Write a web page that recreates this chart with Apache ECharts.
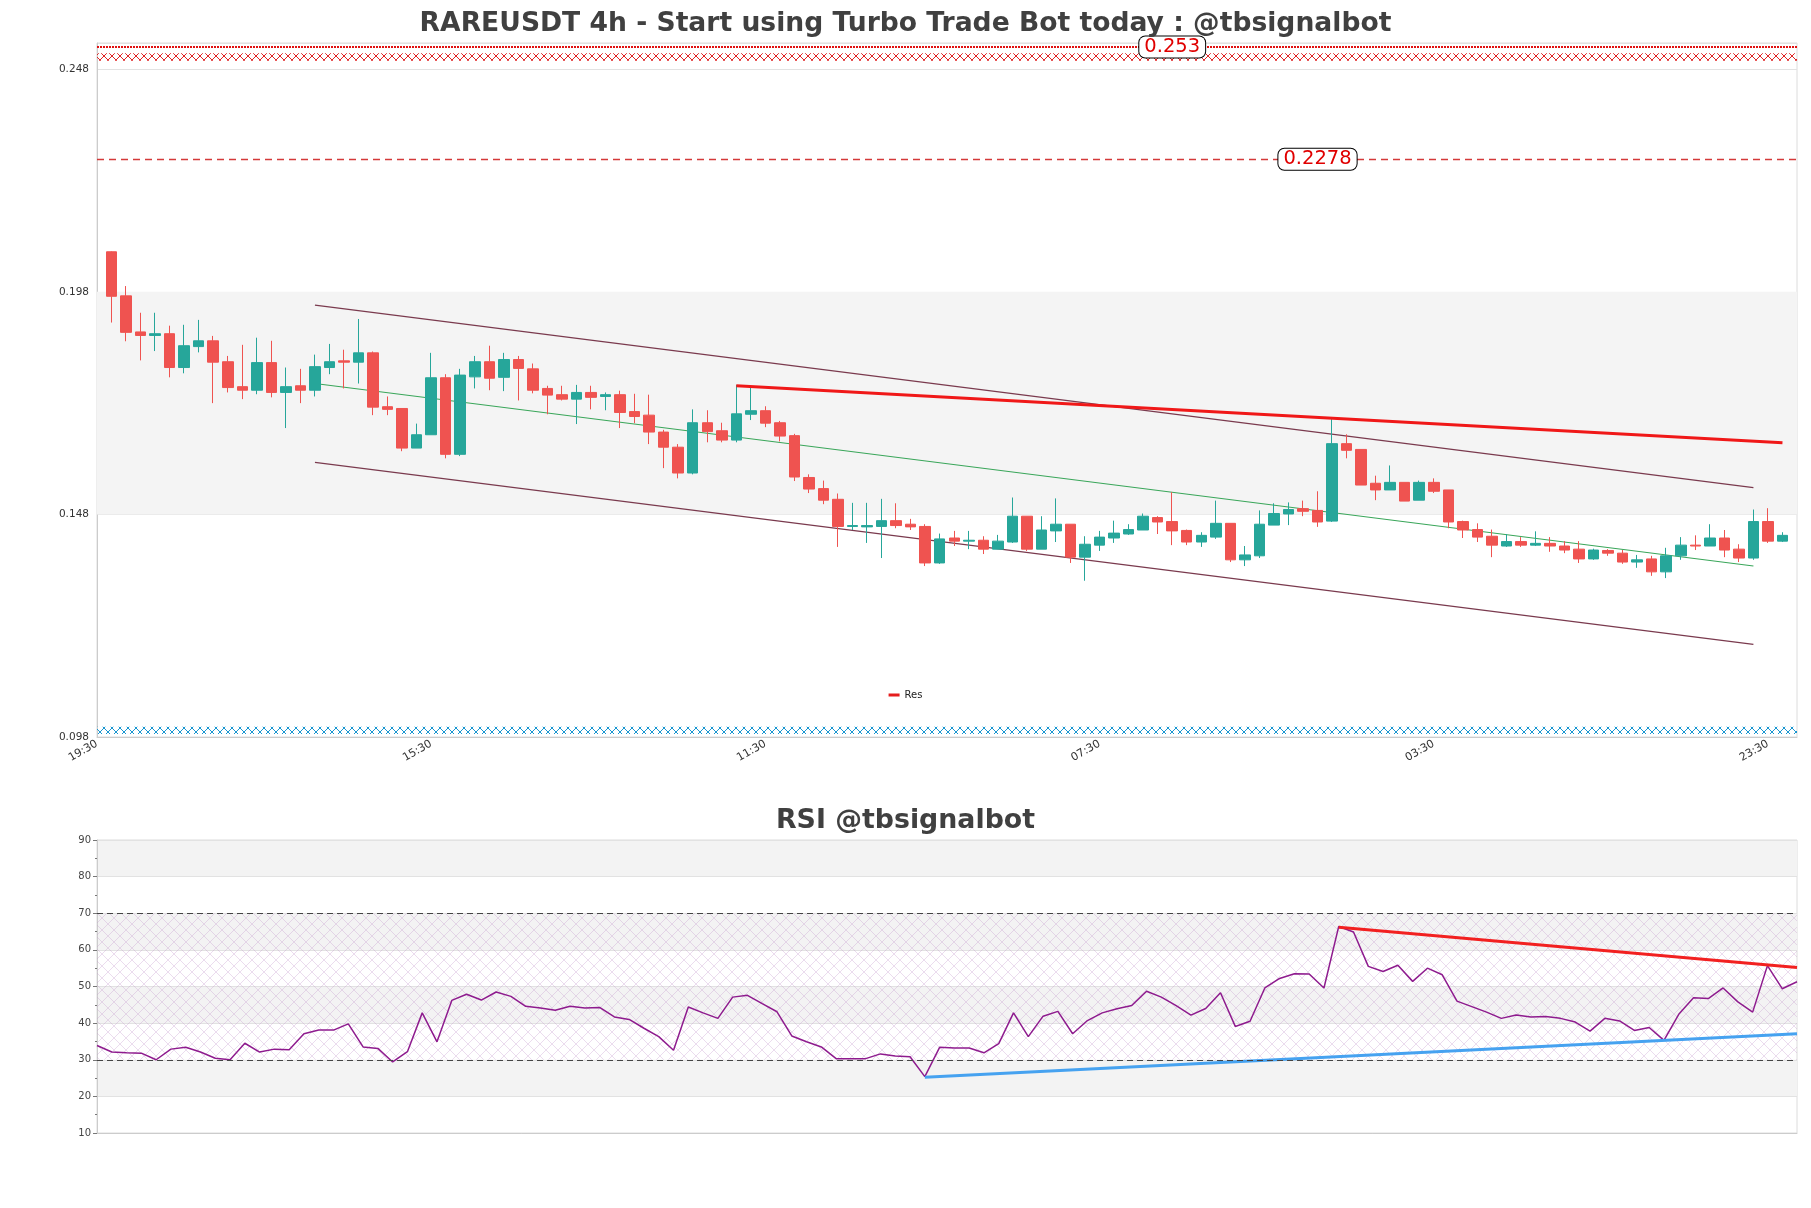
<!DOCTYPE html>
<html><head><meta charset="utf-8">
<script src="https://cdn.jsdelivr.net/npm/echarts/dist/echarts.min.js"></script>
<style>html,body{margin:0;padding:0;background:#fff}#c{width:1811px;height:1208px}</style>
</head><body><div id="c"></div>
<script>
// ---------- DATA ----------
const firstTime = '19:30';          // time of the slot left of the first candle
const stepHours = 4;
const tickLabels = ['19:30','15:30','11:30','07:30','03:30','23:30'];

const opens = [0.2070,0.1971,0.1890,0.1882,0.1886,0.1810,0.1857,0.1870,0.1823,0.1767,
0.1759,0.1821,0.1754,0.1769,0.1759,0.1810,0.1825,0.1822,0.1843,0.1722,
0.1718,0.1629,0.1659,0.1787,0.1615,0.1789,0.1823,0.1788,0.1828,0.1807,
0.1763,0.1749,0.1739,0.1754,0.1745,0.1749,0.1711,0.1703,0.1665,0.1631,
0.1573,0.1686,0.1668,0.1647,0.1705,0.1713,0.1686,0.1657,0.1563,0.1538,
0.1514,0.1453,0.1452,0.1453,0.1466,0.1458,0.1453,0.1371,0.1427,0.1420,
0.1422,0.1402,0.1418,0.1476,0.1402,0.1443,0.1458,0.1384,0.1411,0.1427,
0.1436,0.1445,0.1473,0.1464,0.1444,0.1418,0.1429,0.1460,0.1378,0.1387,
0.1456,0.1481,0.1493,0.1489,0.1465,0.1639,0.1626,0.1550,0.1535,0.1552,
0.1512,0.1552,0.1535,0.1464,0.1446,0.1431,0.1409,0.1419,0.1411,0.1415,
0.1409,0.1402,0.1380,0.1399,0.1393,0.1373,0.1380,0.1351,0.1387,0.1411,
0.1409,0.1427,0.1402,0.1382,0.1464,0.1420];
const closes = [0.1970,0.1889,0.1882,0.1886,0.1810,0.1859,0.1870,0.1822,0.1765,0.1759,
0.1821,0.1754,0.1767,0.1759,0.1812,0.1823,0.1822,0.1843,0.1721,0.1716,
0.1629,0.1659,0.1787,0.1615,0.1793,0.1823,0.1786,0.1828,0.1808,0.1759,
0.1748,0.1739,0.1754,0.1743,0.1749,0.1709,0.1700,0.1665,0.1631,0.1573,
0.1686,0.1666,0.1647,0.1706,0.1713,0.1685,0.1656,0.1564,0.1537,0.1512,
0.1453,0.1455,0.1455,0.1466,0.1455,0.1452,0.1371,0.1425,0.1420,0.1422,
0.1402,0.1420,0.1476,0.1402,0.1445,0.1458,0.1384,0.1413,0.1429,0.1438,
0.1446,0.1476,0.1463,0.1443,0.1418,0.1433,0.1460,0.1378,0.1389,0.1458,
0.1482,0.1491,0.1487,0.1463,0.1639,0.1624,0.1546,0.1535,0.1552,0.1510,
0.1552,0.1532,0.1463,0.1445,0.1429,0.1411,0.1419,0.1411,0.1415,0.1409,
0.1400,0.1380,0.1400,0.1393,0.1373,0.1378,0.1351,0.1387,0.1411,0.1409,
0.1427,0.1400,0.1382,0.1464,0.1420,0.1433];
const lows = [0.1911,0.1869,0.1826,0.1847,0.1788,0.1797,0.1844,0.1730,0.1754,0.1739,
0.1750,0.1743,0.1674,0.1730,0.1745,0.1795,0.1763,0.1774,0.1703,0.1703,
0.1622,0.1629,0.1659,0.1606,0.1611,0.1763,0.1759,0.1757,0.1736,0.1752,
0.1705,0.1736,0.1683,0.1716,0.1714,0.1674,0.1685,0.1638,0.1584,0.1561,
0.1570,0.1642,0.1642,0.1642,0.1692,0.1676,0.1644,0.1555,0.1528,0.1503,
0.1407,0.1445,0.1416,0.1382,0.1449,0.1445,0.1364,0.1369,0.1409,0.1402,
0.1391,0.1402,0.1416,0.1398,0.1402,0.1418,0.1371,0.1331,0.1398,0.1416,
0.1434,0.1445,0.1436,0.1411,0.1411,0.1407,0.1425,0.1373,0.1364,0.1382,
0.1456,0.1456,0.1476,0.1452,0.1463,0.1606,0.1546,0.1512,0.1535,0.1510,
0.1512,0.1528,0.1449,0.1427,0.1418,0.1384,0.1407,0.1407,0.1409,0.1396,
0.1393,0.1371,0.1378,0.1387,0.1369,0.1360,0.1342,0.1337,0.1378,0.1400,
0.1409,0.1384,0.1373,0.1378,0.1416,0.1418];
const highs = [0.2071,0.1993,0.1933,0.1933,0.1904,0.1906,0.1917,0.1881,0.1836,0.1861,
0.1877,0.1870,0.1810,0.1807,0.1839,0.1863,0.1850,0.1919,0.1846,0.1745,
0.1718,0.1684,0.1843,0.1795,0.1807,0.1836,0.1859,0.1843,0.1836,0.1819,
0.1769,0.1769,0.1771,0.1769,0.1754,0.1758,0.1751,0.1749,0.1670,0.1638,
0.1716,0.1714,0.1686,0.1771,0.1765,0.1723,0.1690,0.1661,0.1570,0.1556,
0.1527,0.1506,0.1506,0.1515,0.1505,0.1470,0.1458,0.1437,0.1443,0.1443,
0.1431,0.1434,0.1518,0.1476,0.1476,0.1516,0.1458,0.1431,0.1443,0.1466,
0.1458,0.1482,0.1476,0.1530,0.1446,0.1440,0.1511,0.1460,0.1409,0.1489,
0.1505,0.1507,0.1511,0.1532,0.1694,0.1660,0.1626,0.1567,0.1590,0.1552,
0.1556,0.1561,0.1535,0.1466,0.1460,0.1446,0.1436,0.1429,0.1442,0.1429,
0.1420,0.1420,0.1403,0.1402,0.1400,0.1389,0.1387,0.1405,0.1429,0.1433,
0.1458,0.1445,0.1413,0.1491,0.1494,0.1440];

const rsi = [33.9,32.1,31.9,31.8,30.0,32.9,33.4,32.1,30.4,30.0,
34.5,32.1,32.9,32.7,37.1,38.1,38.1,39.8,33.5,33.1,
29.4,32.2,42.8,34.9,46.2,47.9,46.3,48.5,47.3,44.6,
44.1,43.5,44.6,44.1,44.3,41.7,41.0,38.6,36.3,32.6,
44.4,42.8,41.3,47.1,47.6,45.3,43.1,36.5,34.9,33.5,
30.3,30.3,30.3,31.6,31.0,30.8,25.4,33.4,33.2,33.2,
31.9,34.4,42.8,36.3,41.9,43.2,37.1,40.7,42.8,43.9,
44.8,48.7,47.1,44.8,42.2,44.0,48.3,39.1,40.5,49.6,
52.2,53.5,53.4,49.6,66.4,64.9,55.5,54.1,55.8,51.4,
55.0,53.2,46.0,44.5,43.0,41.3,42.2,41.7,41.8,41.3,
40.3,37.8,41.3,40.6,38.0,38.8,35.3,42.4,46.9,46.7,
49.6,45.8,43.0,55.7,49.4,51.3];

// trend / channel lines: candle index pairs and price pairs
const resIdx = [43, 115],   resVal = [0.1769, 0.1641];
const chanIdx = [14, 113];
const upperVal = [0.1950, 0.1540];
const midVal = [0.1774, 0.1364];
const lowerVal = [0.1597, 0.1188];
// horizontal levels
const levelSolid = 0.2278;
const levelTop = 0.253;
const redZone = [0.2499, 0.2516];
const blueZone = [0.0987, 0.1003];
const grayBand = [0.148, 0.198];
// RSI lines
const rsiResIdx = [84, 115], rsiResVal = [66.2, 55.2];
const rsiSupIdx = [56, 115], rsiSupVal = [25.2, 37.1];
const rsiLevels = [30, 70];
const rsiHatch = [30, 70];

// ---------- BUILD ----------
const nSlots = opens.length + 2;   // one empty slot each side
const cats = [];
{
  const [h0, m0] = firstTime.split(':').map(Number);
  for (let i = 0; i < nSlots; i++) {
    const h = (h0 + stepHours * i) % 24;
    cats.push(String(h).padStart(2, '0') + ':' + String(m0).padStart(2, '0'));
  }
}
const candleData = ['-'];
for (let i = 0; i < opens.length; i++) candleData.push([opens[i], closes[i], lows[i], highs[i]]);
candleData.push('-');
const rsiCats = rsi.map((_, i) => String(i));

function pair(idx, val, off) { return [[idx[0] + off, val[0]], [idx[1] + off, val[1]]]; }

function hatch(color, cell, lw, bg) {
  const c = document.createElement('canvas');
  c.width = c.height = cell;
  const g = c.getContext('2d');
  if (bg) { g.fillStyle = bg; g.fillRect(0, 0, cell, cell); }
  g.strokeStyle = color; g.lineWidth = lw;
  g.beginPath();
  g.moveTo(0, 0); g.lineTo(cell, cell);
  g.moveTo(cell, 0); g.lineTo(0, cell);
  g.stroke();
  return c;
}
const redPat = { image: hatch('#e02424', 8, 1), repeat: 'repeat' };
const bluePat = { image: hatch('#1a96d0', 8, 1), repeat: 'repeat' };
const rsiPat = { image: hatch('rgba(196,150,205,0.42)', 12, 0.8), repeat: 'repeat' };

const FONT = 'DejaVu Sans';
const chart = echarts.init(document.getElementById('c'), null, { renderer: 'canvas' });

const option = {
  animation: false,
  backgroundColor: '#ffffff',
  textStyle: { fontFamily: FONT },
  title: [
    { text: 'RAREUSDT 4h - Start using Turbo Trade Bot today : @tbsignalbot', left: 'center', top: 11, padding: 0,
      textStyle: { fontFamily: FONT, fontSize: 26.6, fontWeight: 'bold', color: '#404040' } },
    { text: 'RSI @tbsignalbot', left: 'center', top: 808, padding: 0,
      textStyle: { fontFamily: FONT, fontSize: 26.8, fontWeight: 'bold', color: '#404040' } }
  ],
  legend: {
    data: ['Res'], left: 'center', top: 685, itemWidth: 11, itemHeight: 3, icon: 'rect', itemGap: 6,
    textStyle: { fontFamily: FONT, fontSize: 10, color: '#222' }
  },
  grid: [
    { left: 97, width: 1700, top: 43, height: 694, show: true, borderColor: '#dcdcdc', borderWidth: 1, backgroundColor: 'transparent' },
    { left: 97, width: 1700, top: 840, height: 293, show: true, borderColor: '#dcdcdc', borderWidth: 1, backgroundColor: 'transparent' }
  ],
  xAxis: [
    { type: 'category', gridIndex: 0, data: cats, boundaryGap: false,
      axisLine: { show: true, lineStyle: { color: '#cccccc' } }, axisTick: { show: false },
      axisLabel: { interval: 22, rotate: 30, fontSize: 11, color: '#333', margin: 6, fontFamily: FONT },
      splitLine: { show: false } },
    { type: 'category', gridIndex: 1, data: rsiCats, boundaryGap: false,
      axisLine: { show: true, lineStyle: { color: '#cccccc' } }, axisTick: { show: false },
      axisLabel: { show: false }, splitLine: { show: false } }
  ],
  yAxis: [
    { type: 'value', gridIndex: 0, min: 0.098, max: 0.2539, interval: 0.05,
      axisLine: { show: true, lineStyle: { color: '#cccccc' } }, axisTick: { show: false },
      axisLabel: { fontSize: 10.5, color: '#333', showMaxLabel: false, fontFamily: FONT, margin: 8,
        formatter: (v) => v.toFixed(3) },
      splitLine: { show: true, lineStyle: { color: '#e2e2e2', width: 1 } } },
    { type: 'value', gridIndex: 1, min: 10, max: 90, interval: 10,
      axisLine: { show: true, lineStyle: { color: '#cccccc' } },
      axisTick: { show: true, length: 4, lineStyle: { color: '#777' } },
      minorTick: { show: true, splitNumber: 2, length: 2, lineStyle: { color: '#777' } },
      axisLabel: { fontSize: 10, color: '#444', fontFamily: FONT, margin: 6 },
      splitLine: { show: true, lineStyle: { color: '#e2e2e2' } },
      splitArea: { show: true, areaStyle: { color: ['rgba(255,255,255,0)', '#f3f3f3'] } } }
  ],
  series: [
    { name: 'upper', type: 'line', xAxisIndex: 0, yAxisIndex: 0, data: pair(chanIdx, upperVal, 1),
      symbol: 'none', silent: true, lineStyle: { color: '#7a3a4e', width: 1.3 }, z: 1,
      markArea: { silent: true, data: [
        [{ yAxis: grayBand[0], itemStyle: { color: '#f4f4f4' } }, { yAxis: grayBand[1] }],
        [{ yAxis: redZone[0], itemStyle: { color: redPat } }, { yAxis: redZone[1] }],
        [{ yAxis: blueZone[0], itemStyle: { color: bluePat } }, { yAxis: blueZone[1] }]
      ] },
      markLine: { silent: true, symbol: 'none', precision: 5, label: { show: false }, data: [
        { yAxis: levelSolid, lineStyle: { color: '#d43a3a', type: [7, 5], width: 1.4 } },
        { yAxis: levelTop, lineStyle: { color: '#e01010', type: [2, 1], width: 2 } }
      ] },
      markPoint: { silent: true, symbol: 'rect', symbolSize: 1, itemStyle: { color: 'rgba(0,0,0,0)' },
        label: { show: true, position: 'inside', color: '#e00000', fontSize: 19.5, fontFamily: FONT,
          backgroundColor: '#fff', borderColor: '#000', borderWidth: 1, borderRadius: 6, padding: [1, 5, 0, 5],
          formatter: (p) => p.name },
        data: [
          { name: String(levelTop), coord: [74, levelTop] },
          { name: String(levelSolid), coord: [84, levelSolid] }
        ] }
    },
    { name: 'lower', type: 'line', xAxisIndex: 0, yAxisIndex: 0, data: pair(chanIdx, lowerVal, 1),
      symbol: 'none', silent: true, lineStyle: { color: '#7a3a4e', width: 1.3 }, z: 1 },
    { name: 'mid', type: 'line', xAxisIndex: 0, yAxisIndex: 0, data: pair(chanIdx, midVal, 1),
      symbol: 'none', silent: true, lineStyle: { color: '#3aa65a', width: 1.1 }, z: 1 },
    { name: 'candles', type: 'candlestick', xAxisIndex: 0, yAxisIndex: 0, data: candleData, barWidth: 11, z: 3,
      itemStyle: { color: '#26a69a', color0: '#ef5350', borderColor: '#26a69a', borderColor0: '#ef5350', borderWidth: 1 } },
    { name: 'Res', type: 'line', xAxisIndex: 0, yAxisIndex: 0, data: pair(resIdx, resVal, 1),
      symbol: 'none', silent: true, itemStyle: { color: '#e51d1d' }, lineStyle: { color: '#f01818', width: 3 }, z: 4 },
    { name: 'RSI', type: 'line', xAxisIndex: 1, yAxisIndex: 1, data: rsi, symbol: 'none', silent: true,
      lineStyle: { color: '#8e1b8e', width: 1.5 }, z: 3,
      markArea: { silent: true, data: [[{ yAxis: rsiHatch[0], itemStyle: { color: rsiPat } }, { yAxis: rsiHatch[1] }]] },
      markLine: { silent: true, symbol: 'none', precision: 2, label: { show: false },
        lineStyle: { color: '#444', type: [6, 4], width: 1.2 },
        data: rsiLevels.map(v => ({ yAxis: v })) } },
    { name: 'rsiRes', type: 'line', xAxisIndex: 1, yAxisIndex: 1, data: pair(rsiResIdx, rsiResVal, 0),
      symbol: 'none', silent: true, lineStyle: { color: '#f22020', width: 3 }, z: 4 },
    { name: 'rsiSup', type: 'line', xAxisIndex: 1, yAxisIndex: 1, data: pair(rsiSupIdx, rsiSupVal, 0),
      symbol: 'none', silent: true, lineStyle: { color: '#46a2f0', width: 3 }, z: 4 }
  ]
};
chart.setOption(option);
</script>
</body></html>
